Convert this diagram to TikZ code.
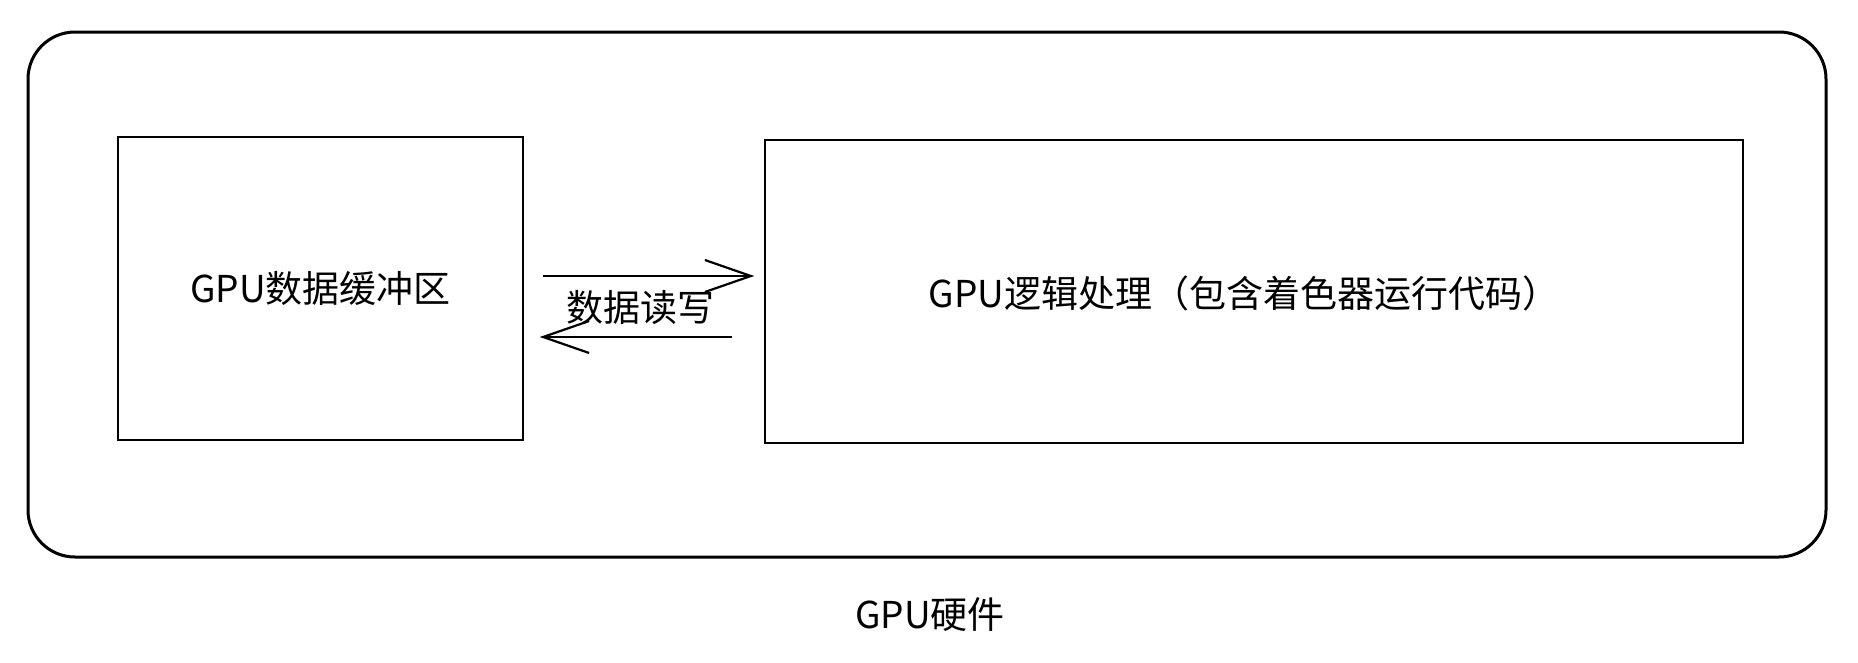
\documentclass[tikz,border=0pt]{standalone}
\usepackage{fontspec}
\setmainfont{Noto Sans CJK SC}
\usetikzlibrary{arrows.meta,positioning}
\tikzset{
  box/.style={draw=black, line width=1.5pt, inner sep=0pt},
  lbl/.style={font=\fontsize{37}{40}\selectfont, text=black},
  rw/.style={draw=black, line width=2.2pt, -{Straight Barb[length=46pt,width=32pt,line width=2.2pt]}}
}
\begin{document}
\begin{tikzpicture}[x=1pt, y=-1pt]
  \useasboundingbox (0,0) rectangle (1858,662);
  \node[box, line width=3pt, rounded corners=47pt, minimum width=1798pt, minimum height=525pt] (gpu) at (927,294.5) {};
  \node[box, minimum width=405pt, minimum height=303pt] (buffer) at (320.5,288.5) {};
  \node[box, minimum width=978pt, minimum height=303pt] (logic) at (1254,291.5) {};
  \node[lbl] (buftxt) at (buffer.center) {GPU数据缓冲区};
  \node[lbl] (logtxt) at (1244,293) {GPU逻辑处理（包含着色器运行代码）};
  \node[lbl] (rwtxt) at (640,308) {数据读写};
  \node[lbl] (hwtxt) at (930,615) {GPU硬件};

  \draw[rw] ([xshift=19pt,yshift=12.5pt]buffer.east) -- ([xshift=-10pt,yshift=15.5pt]logic.west);
  \draw[rw] ([xshift=-32pt,yshift=-45.5pt]logic.west) -- ([xshift=16pt,yshift=-48.5pt]buffer.east);
\end{tikzpicture}
\end{document}
